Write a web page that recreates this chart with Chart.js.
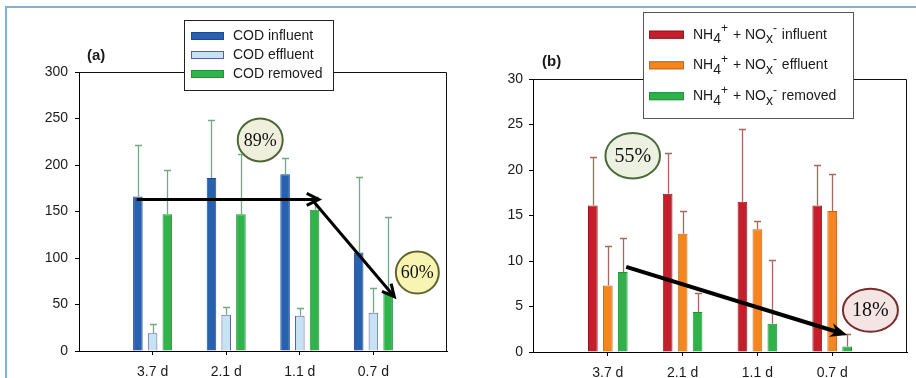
<!DOCTYPE html>
<html>
<head>
<meta charset="utf-8">
<script src="https://cdn.jsdelivr.net/npm/chart.js@4/dist/chart.umd.min.js"></script>
<style>
  html, body { margin: 0; padding: 0; background: #fff; }
  #wrap { position: relative; width: 916px; height: 378px; overflow: hidden; background: #fff; }
  #ca { position: absolute; left: 0; top: 0; }
  #cb { position: absolute; left: 456px; top: 0; }
  .frameTop { position: absolute; left: 5px; top: 6px; width: 911px; height: 2px; background: #7fb2da; }
  .frameLeft { position: absolute; left: 5px; top: 6px; width: 2px; height: 372px; background: #7fb2da; }
</style>
</head>
<body>
<div id="wrap">
  <canvas id="ca" width="456" height="378"></canvas>
  <canvas id="cb" width="460" height="378"></canvas>
  <div class="frameTop"></div>
  <div class="frameLeft"></div>
</div>
<script>
// ---------------- DATA ----------------
// empty slots at both ends give the half-gap margins seen in the figure
const categories = ['', '3.7 d', '2.1 d', '1.1 d', '0.7 d', ''];

const ticksA = [0, 50, 100, 150, 200, 250, 300];
const ticksB = [0, 5, 10, 15, 20, 25, 30];

const legendA = ['COD influent', 'COD effluent', 'COD removed'];
const legendB = ['NH_4^+ + NO_x^- influent', 'NH_4^+ + NO_x^- effluent', 'NH_4^+ + NO_x^- removed'];

const codInfluent   = [null, 166, 186, 190, 106, null];
const codInfluentSD = [null, 56, 62, 17, 81, null];
const codEffluent   = [null, 19, 39, 38, 41, null];
const codEffluentSD = [null, 10, 8, 8, 27, null];
const codRemoved    = [null, 147, 147, 152, 64, null];
const codRemovedSD  = [null, 48, 65, 14, 80, null];

const nInfluent   = [null, 16.1, 17.4, 16.5, 16.1, null];
const nInfluentSD = [null, 5.3, 4.5, 8.0, 4.4, null];
const nEffluent   = [null, 7.3, 13.0, 13.5, 15.5, null];
const nEffluentSD = [null, 4.3, 2.5, 0.9, 4.1, null];
const nRemoved    = [null, 8.8, 4.4, 3.1, 0.6, null];
const nRemovedSD  = [null, 3.75, 2.1, 7.0, 1.35, null];

const pctA = ['89%', '60%'];
const pctB = ['55%', '18%'];
const panelLabels = ['(a)', '(b)'];

// ---------------- DRAW HELPERS ----------------
Chart.defaults.font.family = "'Liberation Sans', Arial, sans-serif";

function drawArrow(ctx, x1, y1, x2, y2, w, headLen, headW, filled) {
  const ang = Math.atan2(y2 - y1, x2 - x1);
  const c = Math.cos(ang), s = Math.sin(ang);
  const px = -s, py = c;
  const hx = x2 - headLen * c, hy = y2 - headLen * s;
  ctx.save();
  ctx.strokeStyle = '#000';
  ctx.fillStyle = '#000';
  ctx.lineWidth = w;
  ctx.lineCap = 'butt';
  ctx.lineJoin = 'miter';
  ctx.beginPath();
  ctx.moveTo(x1, y1);
  if (filled) ctx.lineTo(x2 - headLen * 0.6 * c, y2 - headLen * 0.6 * s);
  else ctx.lineTo(x2 - 1.5 * c, y2 - 1.5 * s);
  ctx.stroke();
  ctx.beginPath();
  if (filled) {
    ctx.moveTo(x2, y2);
    ctx.lineTo(hx + px * headW, hy + py * headW);
    ctx.lineTo(x2 - headLen * 0.7 * c, y2 - headLen * 0.7 * s);
    ctx.lineTo(hx - px * headW, hy - py * headW);
    ctx.closePath();
    ctx.fill();
  } else {
    ctx.moveTo(hx + px * headW, hy + py * headW);
    ctx.lineTo(x2, y2);
    ctx.lineTo(hx - px * headW, hy - py * headW);
    ctx.stroke();
  }
  ctx.restore();
}

function parseRuns(str) {
  const runs = [];
  let cur = '';
  for (let i = 0; i < str.length; i++) {
    const ch = str[i];
    if ((ch === '_' || ch === '^') && i + 1 < str.length) {
      if (cur) { runs.push({ t: cur, k: 'n' }); cur = ''; }
      runs.push({ t: str[i + 1], k: ch === '_' ? 'sub' : 'sup' });
      i++;
    } else cur += ch;
  }
  if (cur) runs.push({ t: cur, k: 'n' });
  return runs;
}

function drawRuns(ctx, str, x, y) {
  const fam = "'Liberation Sans', Arial, sans-serif";
  let cx = x;
  ctx.textAlign = 'left';
  ctx.textBaseline = 'middle';
  ctx.fillStyle = '#1a1a1a';
  parseRuns(str).forEach(r => {
    let dy = 0;
    if (r.k === 'n') ctx.font = '14px ' + fam;
    else if (r.k === 'sub') { ctx.font = '14px ' + fam; dy = 4.5; }
    else { ctx.font = '12px ' + fam; dy = -6; }
    ctx.fillText(r.t, cx, y + dy);
    cx += ctx.measureText(r.t).width + (r.k === 'sup' ? 1 : 0);
  });
}

function makeDecor(cfg) {
  return {
    id: 'decor_' + cfg.name,
    beforeDatasetsDraw(chart) {
      const { ctx, chartArea: a } = chart;
      ctx.save();
      ctx.strokeStyle = '#111';
      ctx.lineWidth = 1;
      ctx.beginPath();
      ctx.moveTo(a.left, a.top + 0.5);
      ctx.lineTo(a.right - 0.5, a.top + 0.5);
      ctx.lineTo(a.right - 0.5, a.bottom);
      ctx.stroke();
      ctx.restore();
    },
    afterDatasetsDraw(chart) {
      const ctx = chart.ctx, xs = chart.scales.x, ys = chart.scales.y;
      // error bars (upper only)
      ctx.save();
      ctx.strokeStyle = cfg.errColor;
      ctx.lineWidth = 1.3;
      chart.data.datasets.forEach((ds, di) => {
        const meta = chart.getDatasetMeta(di);
        ds.data.forEach((v, i) => {
          const sd = cfg.sds[di][i];
          if (v == null || sd == null) return;
          const x = Math.round(meta.data[i].x) + 0.5;
          const y0 = ys.getPixelForValue(v);
          const y1 = Math.round(ys.getPixelForValue(v + sd)) + 0.5;
          ctx.beginPath();
          ctx.moveTo(x, y0);
          ctx.lineTo(x, y1);
          ctx.moveTo(x - 3.5, y1);
          ctx.lineTo(x + 3.5, y1);
          ctx.stroke();
        });
      });
      ctx.restore();
      // arrows
      cfg.arrows.forEach(ar => {
        drawArrow(ctx,
          xs.getPixelForValue(ar.from[0]), ys.getPixelForValue(ar.from[1]),
          xs.getPixelForValue(ar.to[0]), ys.getPixelForValue(ar.to[1]),
          ar.w, ar.headLen, ar.headW, ar.filled);
      });
      // ellipses with percentages
      cfg.bubbles.forEach(b => {
        const cx = xs.getPixelForValue(b.at[0]), cy = ys.getPixelForValue(b.at[1]);
        ctx.save();
        ctx.beginPath();
        ctx.ellipse(cx, cy, b.rx, b.ry, 0, 0, Math.PI * 2);
        ctx.fillStyle = b.fill;
        ctx.fill();
        ctx.lineWidth = 2;
        ctx.strokeStyle = b.stroke;
        ctx.stroke();
        ctx.fillStyle = '#111';
        ctx.font = b.size + "px 'Liberation Serif', 'DejaVu Serif', serif";
        ctx.textAlign = 'center';
        ctx.textBaseline = 'middle';
        ctx.fillText(b.text, cx, cy + 1);
        ctx.restore();
      });
      // legend
      const L = cfg.legend;
      ctx.save();
      ctx.fillStyle = '#fff';
      ctx.fillRect(L.x, L.y, L.w, L.h);
      ctx.strokeStyle = L.border;
      ctx.lineWidth = 1;
      ctx.strokeRect(L.x + 0.5, L.y + 0.5, L.w, L.h);
      chart.data.datasets.forEach((ds, i) => {
        const ry = L.rows[i];
        ctx.fillStyle = ds.backgroundColor;
        ctx.fillRect(L.swX, ry - L.swH / 2, L.swW, L.swH);
        ctx.strokeStyle = ds.borderColor;
        ctx.strokeRect(L.swX + 0.5, ry - L.swH / 2 + 0.5, L.swW - 1, L.swH - 1);
        drawRuns(ctx, ds.label, L.textX, ry);
      });
      ctx.restore();
      // panel label
      ctx.save();
      ctx.fillStyle = '#1a1a1a';
      ctx.font = "bold 15px 'Liberation Sans', Arial, sans-serif";
      ctx.textAlign = 'left';
      ctx.textBaseline = 'middle';
      ctx.fillText(cfg.panel, chart.chartArea.left + cfg.panelDx, chart.chartArea.top - cfg.panelDy);
      ctx.restore();
    }
  };
}

function makeChart(canvas, cfg) {
  const ticks = cfg.ticks;
  const last = categories.length - 1;
  return new Chart(canvas, {
    type: 'bar',
    data: {
      labels: categories,
      datasets: cfg.series.map(s => ({
        label: s.label, data: s.data,
        backgroundColor: s.color, borderColor: s.border, borderWidth: 1,
        categoryPercentage: 0.6, barPercentage: 0.65
      }))
    },
    options: {
      responsive: false, animation: false, devicePixelRatio: 1,
      layout: { padding: { top: cfg.padTop, right: cfg.padRight, left: 0, bottom: 0 } },
      plugins: { legend: { display: false }, tooltip: { enabled: false } },
      scales: {
        x: {
          offset: false,
          grid: { offset: false, drawOnChartArea: false, tickLength: 4, lineWidth: 1,
                  tickColor: (c) => ((c.index === 0 || c.index === last) ? 'rgba(0,0,0,0)' : '#000') },
          border: { color: '#000', width: 1 },
          ticks: { color: '#1a1a1a', font: { size: 14 }, padding: 9, maxRotation: 0, autoSkip: false },
          afterFit: (s) => { s.height = cfg.xHeight; }
        },
        y: {
          min: ticks[0], max: ticks[ticks.length - 1],
          ticks: { stepSize: ticks[1] - ticks[0], color: '#1a1a1a', font: { size: 14 }, padding: cfg.yPad },
          grid: { drawOnChartArea: false, tickLength: 4, tickColor: '#000' },
          border: { color: '#000', width: 1 },
          afterFit: (s) => { s.width = cfg.yWidth; }
        }
      }
    },
    plugins: [makeDecor(cfg)]
  });
}

makeChart(document.getElementById('ca'), {
  name: 'a', ticks: ticksA, padTop: 72, padRight: 8, xHeight: 27, yWidth: 79, yPad: 7,
  panel: panelLabels[0], panelDx: 8, panelDy: 16,
  errColor: '#74a887',
  series: [
    { label: legendA[0], data: codInfluent, color: '#2761b0', border: '#1d4b8e' },
    { label: legendA[1], data: codEffluent, color: '#c7e1f5', border: '#5c5f9e' },
    { label: legendA[2], data: codRemoved, color: '#2fb34a', border: '#23913a' }
  ],
  sds: [codInfluentSD, codEffluentSD, codRemovedSD],
  arrows: [
    { from: [0.784, 163], to: [3.257, 163], w: 3, headLen: 12, headW: 6, filled: false },
    { from: [3.19, 160.5], to: [4.284, 58.4], w: 3, headLen: 12, headW: 6, filled: false }
  ],
  bubbles: [
    { text: pctA[0], at: [2.462, 227], rx: 22.5, ry: 21.5, fill: '#eef0dd', stroke: '#4f6535', size: 18 },
    { text: pctA[1], at: [4.597, 84.4], rx: 21.5, ry: 21, fill: '#f8f4b2', stroke: '#5e6430', size: 18 }
  ],
  legend: { x: 184, y: 20, w: 149, h: 70, border: '#222', swX: 191, swW: 33, swH: 8, textX: 233, rows: [36, 55, 74] }
});

makeChart(document.getElementById('cb'), {
  name: 'b', ticks: ticksB, padTop: 79, padRight: 2, xHeight: 26, yWidth: 77, yPad: 6,
  panel: panelLabels[1], panelDx: 9, panelDy: 17,
  errColor: '#a5695f',
  series: [
    { label: legendB[0], data: nInfluent, color: '#c51f2b', border: '#8b1a20' },
    { label: legendB[1], data: nEffluent, color: '#f5861f', border: '#c0651a' },
    { label: legendB[2], data: nRemoved, color: '#30b24b', border: '#23913a' }
  ],
  sds: [nInfluentSD, nEffluentSD, nRemovedSD],
  arrows: [
    { from: [1.246, 9.36], to: [4.201, 1.87], w: 4, headLen: 17, headW: 7, filled: true }
  ],
  bubbles: [
    { text: pctB[0], at: [1.333, 21.57], rx: 27.3, ry: 22.8, fill: '#ecf1e2', stroke: '#4a6a3a', size: 20 },
    { text: pctB[1], at: [4.511, 4.59], rx: 27.5, ry: 21.5, fill: '#f4e4e4', stroke: '#7a2c2c', size: 20 }
  ],
  legend: { x: 187, y: 12, w: 210, h: 106, border: '#555', swX: 193, swW: 35, swH: 8, textX: 237, rows: [34.7, 65.3, 96.2] }
});
</script>
</body>
</html>
